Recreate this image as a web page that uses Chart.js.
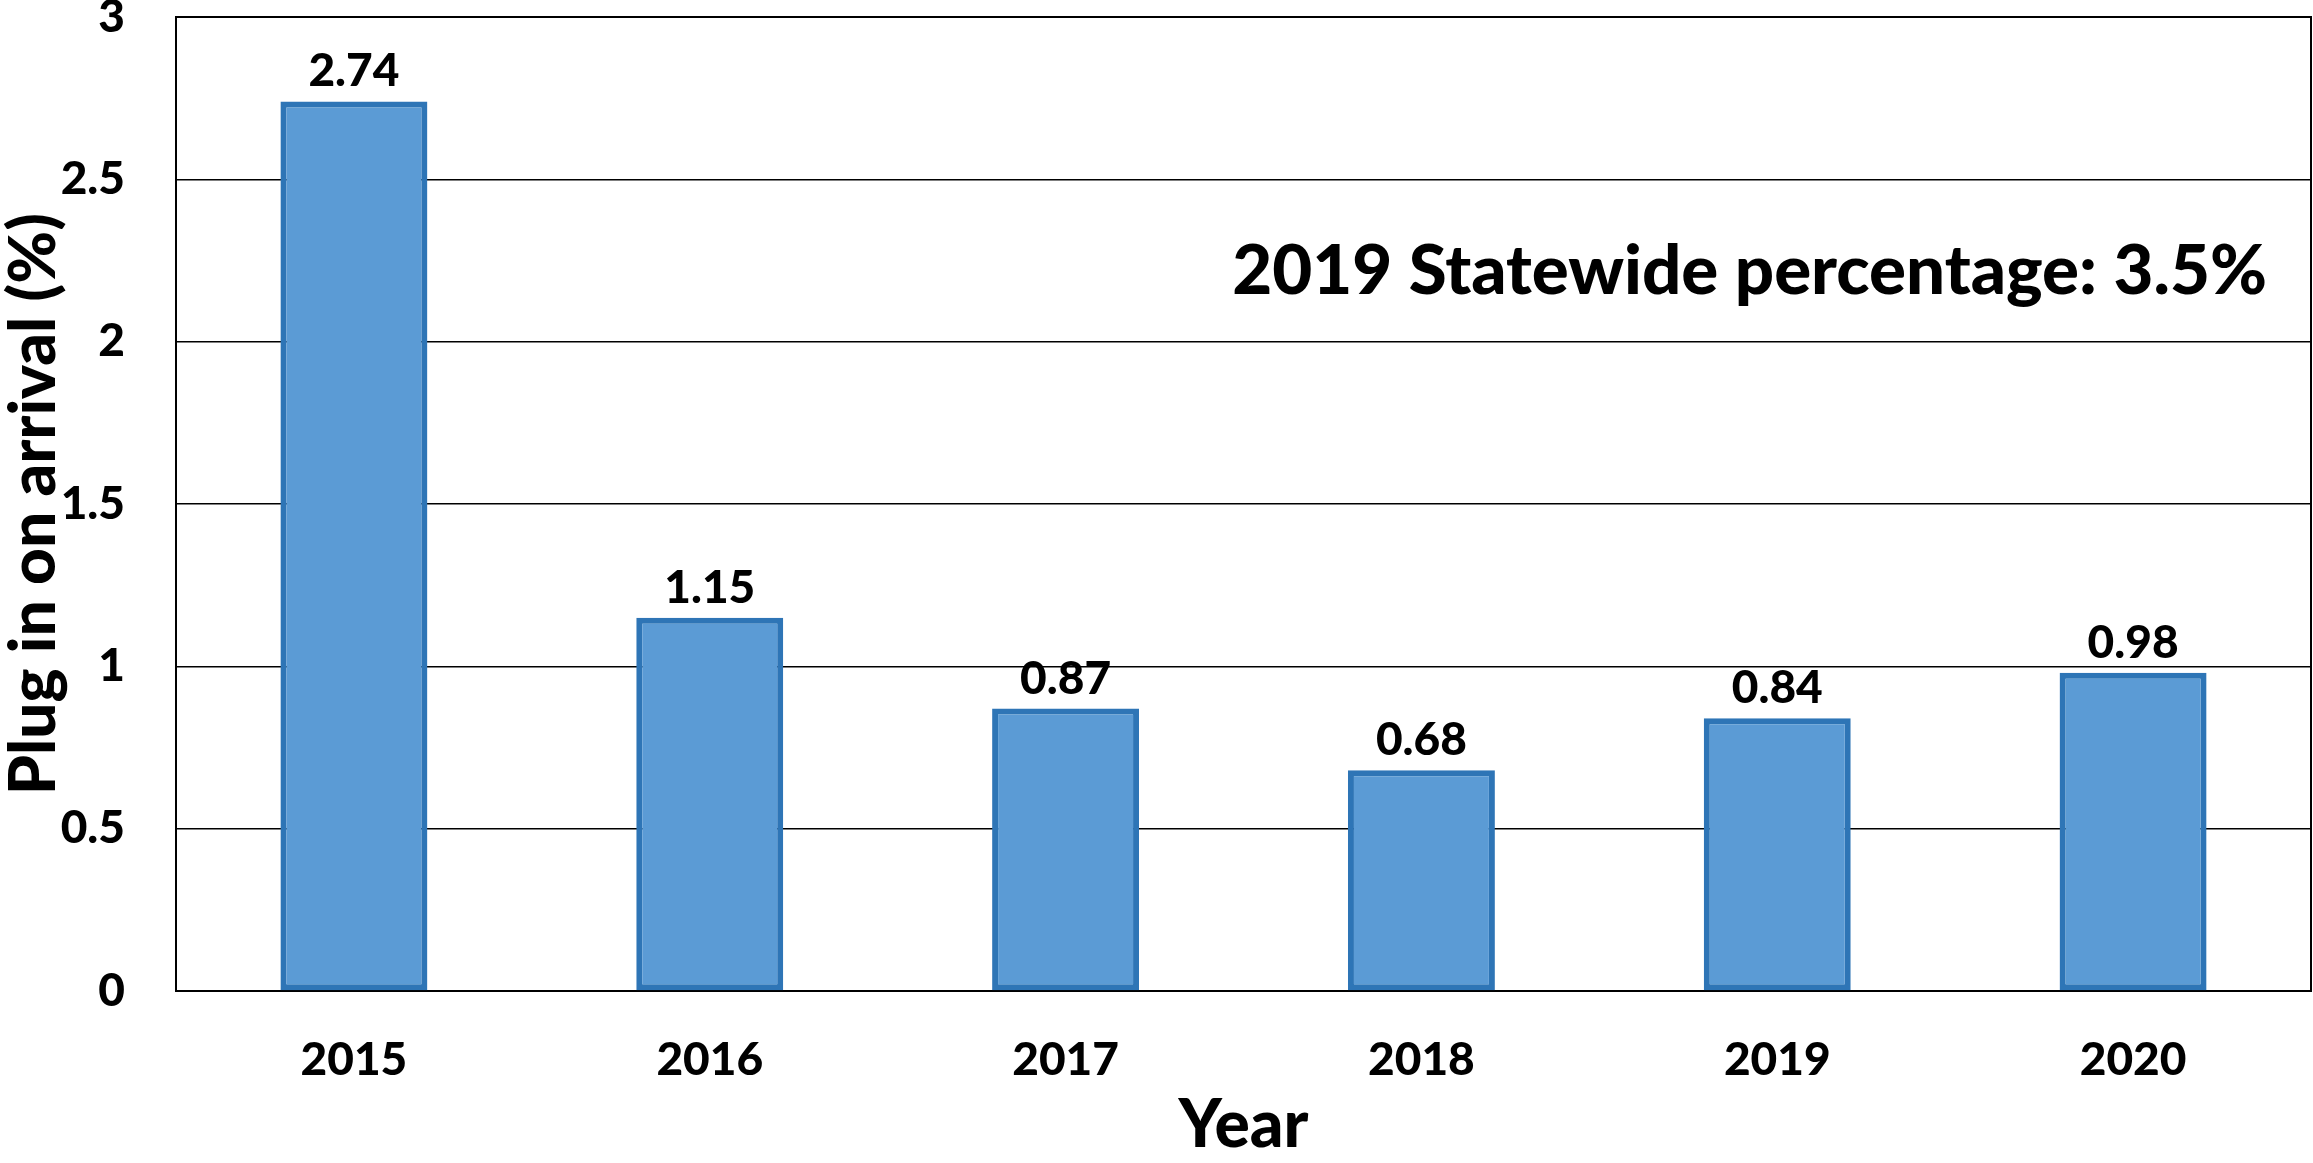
<!DOCTYPE html>
<html>
<head>
<meta charset="utf-8">
<script src="https://cdn.jsdelivr.net/npm/chart.js@4/dist/chart.umd.min.js"></script>
<style>
  html, body { margin: 0; padding: 0; background: #fff; }
  #wrap { width: 2313px; height: 1163px; position: relative; }
</style>
</head>
<body>
<div id="wrap"><canvas id="c" width="2313" height="1163"></canvas></div>
<script>
const categories = ['2015', '2016', '2017', '2018', '2019', '2020'];
const values = [2.74, 1.15, 0.87, 0.68, 0.84, 0.98];
const yTicks = [0, 0.5, 1, 1.5, 2, 2.5, 3];
const xTitle = 'Year';
const yTitle = 'Plug in on arrival (%)';
const annotationText = '2019 Statewide percentage: 3.5%';

const FONT = 'Lato, "Open Sans", sans-serif';
const WEIGHT = '900';

const borderPlugin = {
  id: 'areaBorder',
  beforeDatasetsDraw(chart) {
    const {ctx, chartArea: a} = chart;
    ctx.save();
    ctx.strokeStyle = '#000';
    ctx.lineWidth = 2;
    ctx.strokeRect(a.left, a.top, a.right - a.left, a.bottom - a.top);
    ctx.restore();
  }
};

const labelPlugin = {
  id: 'barLabels',
  afterDatasetsDraw(chart) {
    const {ctx} = chart;
    const meta = chart.getDatasetMeta(0);
    ctx.save();
    ctx.font = WEIGHT + ' 46px ' + FONT;
    ctx.fillStyle = '#000';
    ctx.textAlign = 'center';
    ctx.textBaseline = 'alphabetic';
    meta.data.forEach((bar, i) => {
      ctx.fillText(values[i].toFixed(2), bar.x, bar.y - 15);
    });
    ctx.restore();
  }
};

const annotationPlugin = {
  id: 'annotationText',
  afterDraw(chart) {
    const {ctx, chartArea: a} = chart;
    ctx.save();
    ctx.font = WEIGHT + ' 69px ' + FONT;
    ctx.fillStyle = '#000';
    ctx.textAlign = 'right';
    ctx.textBaseline = 'alphabetic';
    ctx.fillText(annotationText, a.right - 44, a.top + 277);
    ctx.restore();
  }
};

new Chart(document.getElementById('c'), {
  type: 'bar',
  data: {
    labels: categories,
    datasets: [{
      data: values,
      backgroundColor: '#5B9BD5',
      borderColor: '#2E75B6',
      borderWidth: 6,
      borderSkipped: false,
      categoryPercentage: 1.0,
      barPercentage: 0.413
    }]
  },
  options: {
    responsive: false,
    animation: false,
    devicePixelRatio: 1,
    layout: { padding: { top: 17, right: 2, bottom: 0, left: 0 } },
    plugins: { legend: { display: false }, tooltip: { enabled: false } },
    scales: {
      x: {
        grid: { display: false, drawTicks: false },
        border: { display: false },
        ticks: {
          color: '#000',
          font: { family: FONT, size: 46, weight: WEIGHT },
          padding: 42,
          maxRotation: 0
        },
        title: {
          display: true,
          text: xTitle,
          color: '#000',
          font: { family: FONT, size: 66, weight: WEIGHT },
          padding: { top: 0, bottom: -2 }
        },
        afterFit(scale) { scale.height = 172; scale.paddingLeft = 0; scale.paddingRight = 0; }
      },
      y: {
        min: 0,
        max: 3,
        afterBuildTicks(scale) { scale.ticks = yTicks.map(v => ({ value: v })); },
        grid: { color: '#000', lineWidth: 1.5, drawTicks: false },
        border: { display: false },
        ticks: {
          color: '#000',
          font: { family: FONT, size: 46, weight: WEIGHT },
          padding: 51,
          callback: v => String(v)
        },
        title: {
          display: true,
          text: yTitle,
          color: '#000',
          font: { family: FONT, size: 64, weight: WEIGHT },
          padding: { top: -4, bottom: 0 }
        },
        afterFit(scale) { scale.width = 176; scale.paddingTop = 0; scale.paddingBottom = 0; }
      }
    }
  },
  plugins: [borderPlugin, labelPlugin, annotationPlugin]
});
</script>
</body>
</html>
